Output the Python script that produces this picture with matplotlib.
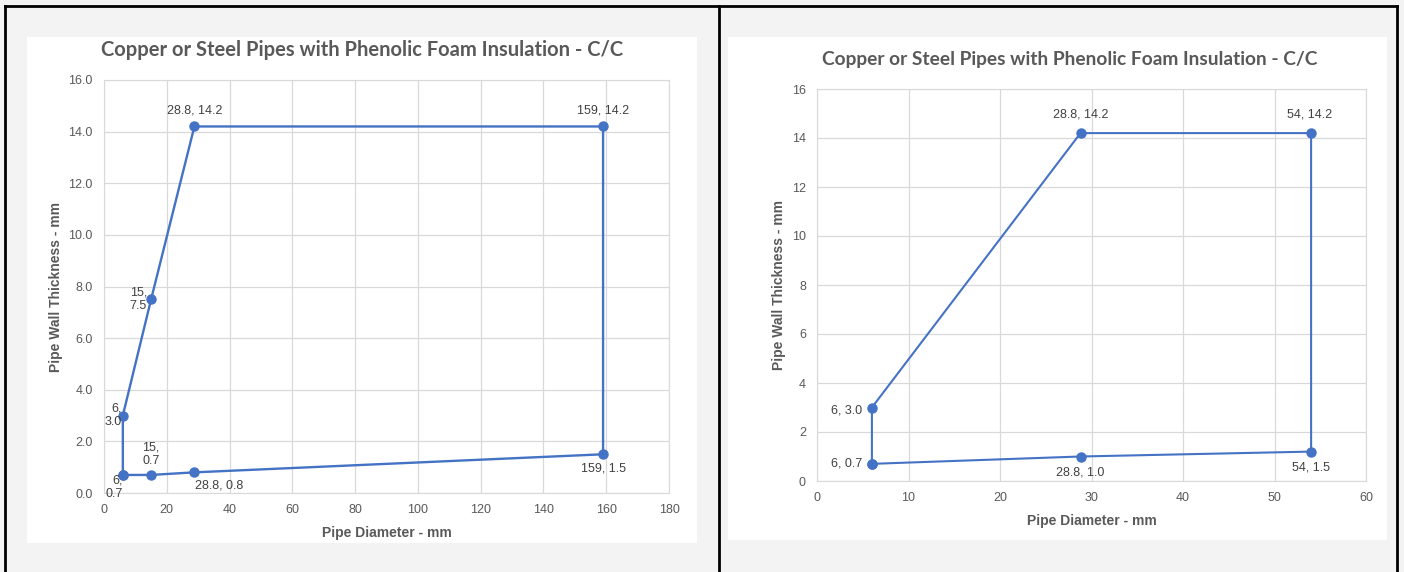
import matplotlib
matplotlib.use('Agg')
import matplotlib.pyplot as plt
from matplotlib.patches import Rectangle

# Datos: gráfico izquierdo (hasta 159 mm)
x_izq = [6, 6, 15, 28.8, 159, 159, 28.8, 15, 6]
y_izq = [0.7, 3.0, 7.5, 14.2, 14.2, 1.5, 0.8, 0.7, 0.7]
etiquetas_izq = ['6,\n0.7', '6,\n3.0', '15,\n7.5', '28.8, 14.2', '159, 14.2',
                 '159, 1.5', '28.8, 0.8', '15,\n0.7']

# Datos: gráfico derecho (hasta 54 mm)
x_der = [6, 6, 28.8, 54, 54, 28.8, 6]
y_der = [0.7, 3.0, 14.2, 14.2, 1.2, 1.0, 0.7]
etiquetas_der = ['6, 0.7', '6, 3.0', '28.8, 14.2', '54, 14.2', '54, 1.5', '28.8, 1.0']

titulo = 'Copper or Steel Pipes with Phenolic Foam Insulation - C/C'
azul = '#4472C4'
gris_texto = '#595959'
W, H = 1404, 572

fig = plt.figure(figsize=(W / 100, H / 100), dpi=100)
fig.patch.set_facecolor('#f3f3f3')


def px_rect(x0, y0, x1, y1):
    # convierte coordenadas de pixel (origen arriba-izquierda) a fracción de figura
    return [x0 / W, 1 - y1 / H, (x1 - x0) / W, (y1 - y0) / H]


# fondos blancos de cada gráfico y marcos negros
for r in [(27, 37, 697, 543), (728, 37, 1387, 540)]:
    x0, y0, x1, y1 = r
    fig.add_artist(Rectangle((x0 / W, 1 - y1 / H), (x1 - x0) / W, (y1 - y0) / H,
                             transform=fig.transFigure, facecolor='white',
                             edgecolor='none', zorder=-5))
for x in [5, 719, 1397]:
    fig.add_artist(plt.Line2D([x / W, x / W], [0, 1 - 6 / H], transform=fig.transFigure,
                              color='black', lw=2))
fig.add_artist(plt.Line2D([5 / W, 1397 / W], [1 - 6 / H, 1 - 6 / H],
                          transform=fig.transFigure, color='black', lw=2))

# títulos centrados sobre cada recuadro
fig.text(362 / W, 1 - 50 / H, titulo, fontsize=14.5, fontweight='bold', color=gris_texto,
         family='Lato', ha='center', va='center')
fig.text(1070 / W, 1 - 59 / H, titulo, fontsize=13.8, fontweight='bold', color=gris_texto,
         family='Lato', ha='center', va='center')


def estilo(ax, xmax, ymax, paso_x, paso_y, fmt_y):
    ax.set_xlim(0, xmax)
    ax.set_ylim(0, ymax)
    ax.set_xticks(range(0, xmax + 1, paso_x))
    yt = [i * paso_y for i in range(int(ymax / paso_y) + 1)]
    ax.set_yticks(yt)
    ax.set_yticklabels([fmt_y.format(v) for v in yt])
    ax.grid(True, color='#d9d9d9', lw=0.9)
    ax.set_axisbelow(True)
    for s in ax.spines.values():
        s.set_color('#d9d9d9')
    ax.tick_params(length=0, labelsize=9, labelcolor=gris_texto, pad=8)
    for t in ax.get_xticklabels() + ax.get_yticklabels():
        t.set_family('Liberation Sans')
    ax.set_xlabel('Pipe Diameter - mm', fontsize=10, fontweight='bold', color=gris_texto,
                  family='Liberation Sans', labelpad=7)
    ax.set_ylabel('Pipe Wall Thickness - mm', fontsize=10, fontweight='bold',
                  color=gris_texto, family='Liberation Sans')


def rotular(ax, xs, ys, textos, offsets):
    for x, y, t, (dx, dy, ha, va) in zip(xs, ys, textos, offsets):
        ax.annotate(t, (x, y), xytext=(dx, dy), textcoords='offset points',
                    ha=ha, va=va, fontsize=9, color='#404040',
                    family='Liberation Sans', linespacing=1.15)


# gráfico izquierdo
ax1 = fig.add_axes(px_rect(104, 80, 669, 493))
ax1.plot(x_izq, y_izq, color=azul, lw=1.7, marker='o', ms=6.5, zorder=3)
estilo(ax1, 180, 16, 20, 2, '{:.1f}')
ax1.yaxis.labelpad = 4
rotular(ax1, x_izq[:-1], y_izq[:-1], etiquetas_izq, [
    (0, 0, 'right', 'top'),
    (-1, 0, 'right', 'center'),
    (-3, 0, 'right', 'center'),
    (0, 7, 'center', 'bottom'),
    (0, 7, 'center', 'bottom'),
    (0, -6, 'center', 'top'),
    (18, -5, 'center', 'top'),
    (0, 6, 'center', 'bottom'),
])

# gráfico derecho
ax2 = fig.add_axes(px_rect(817, 89, 1366, 481))
ax2.plot(x_der, y_der, color=azul, lw=1.5, marker='o', ms=6.5, zorder=3)
estilo(ax2, 60, 16, 10, 2, '{:.0f}')
ax2.yaxis.labelpad = 4
rotular(ax2, x_der[:-1], y_der[:-1], etiquetas_der, [
    (-7, 0, 'right', 'center'),
    (-7, -2, 'right', 'center'),
    (0, 9, 'center', 'bottom'),
    (-1, 9, 'center', 'bottom'),
    (0, -7, 'center', 'top'),
    (0, -7, 'center', 'top'),
])

fig.savefig('out.png', dpi=100, facecolor=fig.get_facecolor())
